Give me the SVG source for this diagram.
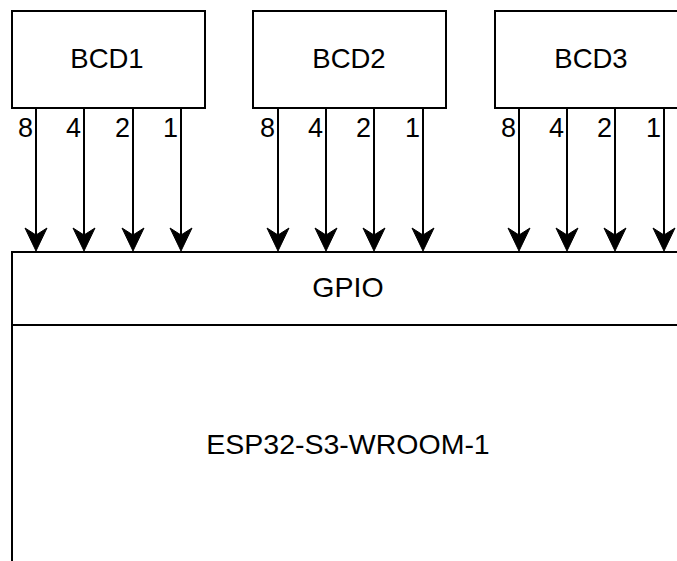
<svg xmlns="http://www.w3.org/2000/svg" width="677" height="561" viewBox="0 0 677 561">
<style>
.box{fill:#fff;stroke:#000;stroke-width:2}
.t{font-family:"Liberation Sans",Arial,sans-serif;font-size:27.5px;fill:#000;text-anchor:middle}
.m{font-family:"Liberation Sans",Arial,sans-serif;font-size:28.5px;fill:#000;text-anchor:middle}
.l{font-family:"Liberation Sans",Arial,sans-serif;font-size:27px;fill:#000;text-anchor:end}
.c{stroke:#000;stroke-width:2;fill:none}
.ah{fill:#000;stroke:#000;stroke-width:1}
</style>
<defs>
<path id="ah" class="ah" d="M0,0 L-11,-23 L0,-16 L11,-23 Z"/>
</defs>
<rect width="677" height="561" fill="#fff"/>
<g id="esp32">
<rect class="box" x="12" y="252" width="680" height="320"/>
<line class="c" x1="12" y1="325" x2="692" y2="325"/>
<text class="m" x="348" y="297">GPIO</text>
<text class="m" x="348" y="454">ESP32-S3-WROOM-1</text>
</g>
<g id="bcd1">
<rect class="box" x="12" y="11" width="193" height="97"/>
<text class="t" x="107" y="68">BCD1</text>
</g>
<g id="bcd2">
<rect class="box" x="253" y="11" width="193" height="97"/>
<text class="t" x="349" y="68">BCD2</text>
</g>
<g id="bcd3">
<rect class="box" x="495" y="11" width="193" height="97"/>
<text class="t" x="591" y="68">BCD3</text>
</g>
<g id="connectors">
<line class="c" x1="36" y1="108" x2="36" y2="240"/>
<line class="c" x1="84" y1="108" x2="84" y2="240"/>
<line class="c" x1="133" y1="108" x2="133" y2="240"/>
<line class="c" x1="181" y1="108" x2="181" y2="240"/>
<line class="c" x1="278" y1="108" x2="278" y2="240"/>
<line class="c" x1="326" y1="108" x2="326" y2="240"/>
<line class="c" x1="374" y1="108" x2="374" y2="240"/>
<line class="c" x1="423" y1="108" x2="423" y2="240"/>
<line class="c" x1="519" y1="108" x2="519" y2="240"/>
<line class="c" x1="567" y1="108" x2="567" y2="240"/>
<line class="c" x1="615" y1="108" x2="615" y2="240"/>
<line class="c" x1="664" y1="108" x2="664" y2="240"/>
<use href="#ah" x="36" y="251"/>
<use href="#ah" x="84" y="251"/>
<use href="#ah" x="133" y="251"/>
<use href="#ah" x="181" y="251"/>
<use href="#ah" x="278" y="251"/>
<use href="#ah" x="326" y="251"/>
<use href="#ah" x="374" y="251"/>
<use href="#ah" x="423" y="251"/>
<use href="#ah" x="519" y="251"/>
<use href="#ah" x="567" y="251"/>
<use href="#ah" x="615" y="251"/>
<use href="#ah" x="664" y="251"/>
<text class="l" x="33" y="137">8</text>
<text class="l" x="81" y="137">4</text>
<text class="l" x="130" y="137">2</text>
<text class="l" x="178" y="137">1</text>
<text class="l" x="275" y="137">8</text>
<text class="l" x="323" y="137">4</text>
<text class="l" x="371" y="137">2</text>
<text class="l" x="420" y="137">1</text>
<text class="l" x="516" y="137">8</text>
<text class="l" x="564" y="137">4</text>
<text class="l" x="612" y="137">2</text>
<text class="l" x="661" y="137">1</text>
</g>
</svg>
